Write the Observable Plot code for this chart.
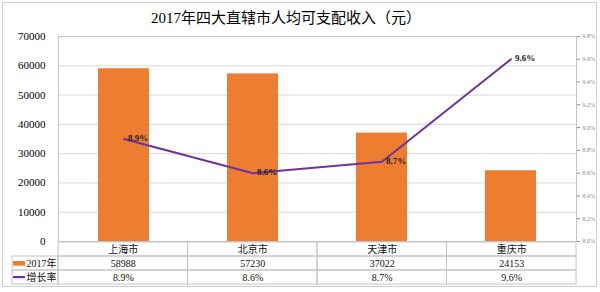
<!DOCTYPE html>
<html>
<head>
<meta charset="utf-8">
<script src="https://cdn.jsdelivr.net/npm/d3@7"></script>
<script src="https://cdn.jsdelivr.net/npm/@observablehq/plot@0.6"></script>
<style>
  html, body { margin: 0; padding: 0; background: #fff; }
  #wrap { position: relative; width: 600px; height: 292px; overflow: hidden; background: #fff; }
  #border { position: absolute; left: 2px; top: 2px; width: 595px; height: 285px; border: 1px solid #cfcfcf; box-sizing: border-box; }
  #title { position: absolute; left: 0; top: 6px; width: 572px; text-align: center; font: 15px "Liberation Serif", "Noto Sans CJK SC", serif; color: #000; }
  .layer { position: absolute; left: 0; top: 0; }
</style>
</head>
<body>
<div id="wrap">
  <div id="border"></div>
  <div id="title"></div>
  <div id="main" class="layer"></div>
  <div id="table" class="layer"></div>
</div>
<script>
const titleText = "2017年四大直辖市人均可支配收入（元）";
const cities = ["上海市", "北京市", "天津市", "重庆市"];
const income2017 = [58988, 57230, 37022, 24153];
const growthRate = [8.9, 8.6, 8.7, 9.6];
const incomeTicks = [0, 10000, 20000, 30000, 40000, 50000, 60000, 70000];
const rateTicks = [8.0, 8.2, 8.4, 8.6, 8.8, 9.0, 9.2, 9.4, 9.6, 9.8];
const seriesNames = ["2017年", "增长率"];
const seriesColors = ["#ED7D31", "#7030A0"];

document.getElementById("title").textContent = titleText;

const rateMin = rateTicks[0], rateMax = rateTicks[rateTicks.length - 1];
const incMax = incomeTicks[incomeTicks.length - 1];
const toY = r => (r - rateMin) / (rateMax - rateMin) * incMax;
const fromY = v => rateMin + v / incMax * (rateMax - rateMin);
const fmtRate = r => r.toFixed(1) + "%";

const data = cities.map((c, i) => ({city: c, income: income2017[i], rate: growthRate[i]}));

const serif = "'Liberation Serif', 'Noto Sans CJK SC', serif";

const main = Plot.plot({
  width: 600, height: 292,
  marginTop: 36, marginBottom: 51, marginLeft: 58, marginRight: 24,
  style: {background: "transparent", fontFamily: serif, overflow: "visible", color: "#000"},
  x: {domain: cities, axis: null, paddingInner: 0.605, paddingOuter: 0.3025},
  y: {domain: [0, incMax]},
  marks: [
    Plot.gridY(incomeTicks, {stroke: "#d9d9d9", strokeOpacity: 1}),
    Plot.barY(data, {x: "city", y: "income", fill: seriesColors[0]}),
    Plot.frame({stroke: "#c4c4c4"}),
    Plot.axisY(incomeTicks, {anchor: "left", tickSize: 0, tickPadding: 13, fontSize: 11, label: null, tickFormat: d => String(d)}),
    Plot.axisY(rateTicks.map(toY), {anchor: "right", tickSize: 3, tickPadding: 3, fontSize: 6, color: "#8a8a8a", label: null, tickFormat: v => fmtRate(fromY(v))}),
    Plot.line(data, {x: "city", y: d => toY(d.rate), stroke: seriesColors[1], strokeWidth: 2}),
    Plot.text(data, {x: "city", y: d => toY(d.rate), text: d => fmtRate(d.rate), textAnchor: "start", dx: 4, dy: -1, fontSize: 9, fontWeight: "bold", fill: "#222"})
  ]
});
document.getElementById("main").appendChild(main);

// data table under the chart
const legendFrac = 46 / 129.25;
const rows = ["cat", "val", "rate"];
const cityCells = [];
cities.forEach((c, i) => {
  cityCells.push({x1: i, x2: i + 1, row: "cat", text: c});
  cityCells.push({x1: i, x2: i + 1, row: "val", text: String(income2017[i])});
  cityCells.push({x1: i, x2: i + 1, row: "rate", text: fmtRate(growthRate[i])});
});
const legendRows = [
  {row: "val", name: seriesNames[0], color: seriesColors[0], h: 5},
  {row: "rate", name: seriesNames[1], color: seriesColors[1], h: 2.5}
];

const table = Plot.plot({
  width: 600, height: 292,
  marginTop: 241, marginBottom: 7, marginLeft: 12, marginRight: 24,
  style: {background: "transparent", fontFamily: serif, color: "#000"},
  x: {domain: [-legendFrac, cities.length], axis: null},
  y: {domain: rows, axis: null, padding: 0},
  marks: [
    Plot.barX(cityCells, {x1: "x1", x2: "x2", y: "row", fill: "none", stroke: "#c4c4c4"}),
    Plot.barX(legendRows, {x1: () => -legendFrac, x2: () => 0, y: "row", fill: "none", stroke: "#c4c4c4"}),
    Plot.text(cityCells, {x: d => (d.x1 + d.x2) / 2, y: "row", text: "text", fontSize: 10, fill: "#111"}),
    Plot.barX(legendRows.slice(0, 1), {x1: () => -legendFrac, x2: () => -legendFrac, y: "row", fill: "color", insetLeft: 1, insetRight: -13, insetTop: 5, insetBottom: 4.3}),
    Plot.barX(legendRows.slice(1), {x1: () => -legendFrac, x2: () => -legendFrac, y: "row", fill: "color", insetLeft: 1, insetRight: -13, insetTop: 6, insetBottom: 5.8}),
    Plot.text(legendRows, {x: () => -legendFrac, y: "row", text: "name", textAnchor: "start", dx: 14, fontSize: 10, fill: "#111"})
  ]
});
document.getElementById("table").appendChild(table);
</script>
</body>
</html>
